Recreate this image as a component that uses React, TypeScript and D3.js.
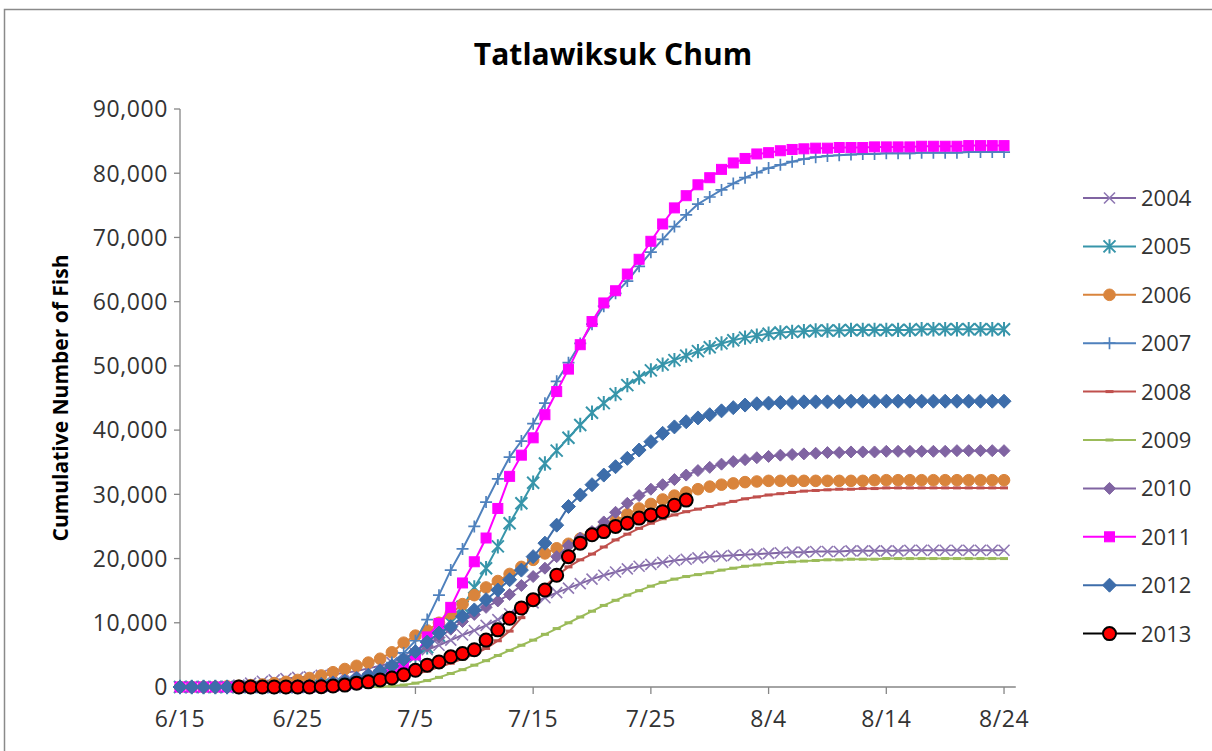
import React from "react";
import * as d3 from "d3";

const TITLE = "Tatlawiksuk Chum";
const Y_LABEL = "Cumulative Number of Fish";
const X_TICK_DAYS = [0, 10, 20, 30, 40, 50, 60, 70];
const X_TICK_LABELS = ["6/15", "6/25", "7/5", "7/15", "7/25", "8/4", "8/14", "8/24"];
const Y_TICKS = [0, 10000, 20000, 30000, 40000, 50000, 60000, 70000, 80000, 90000];

// daily cumulative counts, starting 6/15 (2013 starts 6/20)
const v2004 = [0, 0, 0, 0, 100, 300, 600, 900, 1100, 1300, 1500, 1600, 1800, 2000, 2200, 2500, 2900, 3300, 3800, 4600, 5200, 5800, 6500, 7300, 8100, 8800, 9600, 10500, 11400, 12300, 13100, 13900, 14700, 15400, 16100, 16800, 17400, 17900, 18400, 18800, 19100, 19400, 19700, 19900, 20100, 20300, 20400, 20500, 20600, 20700, 20800, 20900, 21000, 21000, 21100, 21100, 21100, 21200, 21200, 21200, 21200, 21200, 21300, 21300, 21300, 21300, 21300, 21300, 21300, 21300, 21300];
const v2005 = [0, 0, 0, 0, 0, 0, 0, 0, 0, 0, 0, 100, 200, 300, 500, 800, 1200, 1800, 2600, 3600, 4800, 6200, 8000, 10000, 12500, 15500, 18500, 21900, 25500, 28600, 31800, 34800, 36800, 38800, 40800, 42700, 44200, 45600, 47000, 48200, 49300, 50200, 50900, 51600, 52300, 52900, 53500, 54000, 54400, 54700, 55000, 55200, 55300, 55400, 55500, 55500, 55500, 55600, 55600, 55600, 55600, 55600, 55600, 55700, 55700, 55700, 55700, 55700, 55700, 55700, 55700];
const v2006 = [0, 0, 0, 0, 100, 200, 300, 400, 600, 800, 1100, 1400, 1800, 2300, 2800, 3300, 3800, 4400, 5400, 6900, 8000, 8800, 10000, 11400, 12900, 14300, 15500, 16500, 17600, 18700, 19800, 20800, 21600, 22300, 23100, 23900, 24800, 25800, 26900, 27800, 28500, 29200, 29800, 30300, 30800, 31200, 31500, 31700, 31900, 32000, 32100, 32100, 32100, 32100, 32100, 32100, 32100, 32100, 32100, 32200, 32200, 32200, 32200, 32200, 32200, 32200, 32200, 32200, 32200, 32200, 32200];
const v2007 = [0, 0, 0, 0, 0, 0, 0, 0, 0, 0, 0, 100, 200, 400, 700, 1100, 1700, 2600, 3800, 5300, 7200, 10500, 14300, 18200, 21500, 25000, 28800, 32400, 35800, 38300, 41000, 44200, 47600, 50500, 53500, 56500, 59300, 61300, 63200, 65500, 67700, 69700, 71700, 73500, 75200, 76300, 77400, 78400, 79300, 80100, 80800, 81300, 81800, 82200, 82500, 82700, 82800, 82900, 83000, 83000, 83100, 83100, 83100, 83200, 83200, 83200, 83200, 83300, 83300, 83300, 83300];
const v2008 = [0, 0, 0, 0, 0, 0, 0, 0, 0, 0, 0, 0, 50, 150, 300, 450, 650, 900, 1200, 1600, 2000, 2500, 3100, 3700, 4400, 5100, 6000, 7200, 8700, 10800, 13300, 15700, 17300, 18700, 19800, 20700, 21800, 22900, 23800, 24700, 25500, 26200, 26800, 27300, 27700, 28100, 28500, 28900, 29300, 29600, 29900, 30100, 30300, 30500, 30600, 30700, 30800, 30800, 30900, 30900, 31000, 31000, 31000, 31000, 31000, 31000, 31000, 31000, 31000, 31000, 31000];
const v2009 = [0, 0, 0, 0, 0, 0, 0, 0, 0, 0, 0, 0, 0, 0, 0, 0, 0, 50, 150, 300, 600, 1000, 1500, 2100, 2700, 3400, 4100, 4900, 5700, 6500, 7300, 8200, 9100, 10000, 10900, 11800, 12700, 13500, 14300, 15000, 15700, 16300, 16800, 17200, 17500, 17800, 18200, 18500, 18800, 19000, 19200, 19400, 19500, 19600, 19700, 19800, 19800, 19900, 19900, 19900, 20000, 20000, 20000, 20000, 20000, 20000, 20000, 20000, 20000, 20000, 20000];
const v2010 = [0, 0, 0, 0, 0, 0, 0, 0, 0, 0, 200, 300, 500, 800, 1100, 1500, 2000, 2700, 3400, 4200, 5200, 6400, 7700, 9000, 10200, 11300, 12400, 13400, 14400, 15800, 17200, 18500, 20300, 22000, 23200, 24200, 25700, 27200, 28600, 29800, 30800, 31500, 32300, 33000, 33700, 34200, 34700, 35100, 35400, 35700, 35900, 36100, 36200, 36300, 36400, 36500, 36500, 36600, 36600, 36600, 36700, 36700, 36700, 36700, 36700, 36700, 36800, 36800, 36800, 36800, 36800];
const v2011 = [0, 0, 0, 0, 0, 0, 0, 0, 0, 0, 0, 0, 50, 150, 300, 500, 800, 1300, 2000, 3200, 5000, 7800, 9900, 12400, 16200, 19500, 23200, 27800, 32800, 36100, 38800, 42400, 46000, 49500, 53300, 56900, 59800, 61700, 64300, 66600, 69400, 72100, 74600, 76500, 78200, 79300, 80600, 81600, 82300, 83000, 83200, 83500, 83700, 83800, 83900, 83900, 84000, 84000, 84000, 84100, 84100, 84100, 84100, 84200, 84200, 84200, 84200, 84300, 84300, 84300, 84300];
const v2012 = [0, 0, 0, 0, 0, 0, 0, 0, 0, 0, 100, 200, 400, 600, 900, 1300, 1800, 2500, 3300, 4300, 5500, 7000, 8400, 9400, 11000, 12000, 13600, 15100, 16700, 18200, 20300, 22400, 25200, 28100, 29900, 31500, 33000, 34300, 35600, 36900, 38200, 39500, 40500, 41300, 41900, 42400, 43000, 43500, 43900, 44100, 44200, 44300, 44300, 44400, 44400, 44400, 44400, 44500, 44500, 44500, 44500, 44500, 44500, 44500, 44500, 44500, 44500, 44500, 44500, 44500, 44500];
const v2013 = [0, 0, 0, 0, 0, 0, 0, 50, 150, 300, 600, 800, 1100, 1400, 1900, 2600, 3400, 3900, 4700, 5200, 5800, 7300, 8900, 10700, 12300, 13600, 15100, 17400, 20300, 22400, 23700, 24200, 25000, 25500, 26300, 26800, 27300, 28300, 29100];
const START_2013 = 5;

type Marker = "x" | "star" | "circle" | "plus" | "dash" | "diamond" | "square";
interface Series {
  name: string;
  values: number[];
  start: number;
  line: string;
  fill: string;
  stroke: string;
  marker: Marker;
  size: number;
  lw: number;
  mw: number;
}

const SERIES: Series[] = [
  { name: "2004", values: v2004, start: 0, line: "#8064A2", fill: "none", stroke: "#8F78B3", marker: "x", size: 5.5, lw: 2, mw: 1.6 },
  { name: "2005", values: v2005, start: 0, line: "#3795AA", fill: "none", stroke: "#3795AA", marker: "star", size: 6, lw: 2, mw: 2 },
  { name: "2006", values: v2006, start: 0, line: "#D9843C", fill: "#D9843C", stroke: "#D9843C", marker: "circle", size: 5.8, lw: 2, mw: 1 },
  { name: "2007", values: v2007, start: 0, line: "#4F81BD", fill: "none", stroke: "#4F81BD", marker: "plus", size: 6, lw: 2, mw: 1.7 },
  { name: "2008", values: v2008, start: 0, line: "#C0504D", fill: "none", stroke: "#C0504D", marker: "dash", size: 4, lw: 2, mw: 3 },
  { name: "2009", values: v2009, start: 0, line: "#9BBB59", fill: "none", stroke: "#9BBB59", marker: "dash", size: 4, lw: 2, mw: 3 },
  { name: "2010", values: v2010, start: 0, line: "#8064A2", fill: "#8064A2", stroke: "#8064A2", marker: "diamond", size: 6, lw: 2, mw: 1 },
  { name: "2011", values: v2011, start: 0, line: "#FF00FF", fill: "#FF00FF", stroke: "#FF00FF", marker: "square", size: 5, lw: 2, mw: 1 },
  { name: "2012", values: v2012, start: 0, line: "#3D6DAA", fill: "#3D6DAA", stroke: "#3D6DAA", marker: "diamond", size: 7, lw: 2, mw: 1 },
  { name: "2013", values: v2013, start: START_2013, line: "#000000", fill: "#FF0000", stroke: "#000000", marker: "circle", size: 6.5, lw: 2, mw: 2 },
];

const W = 1212;
const H = 751;
const FONT = "'Open Sans', 'Noto Sans', sans-serif";

function MarkerShape({ m, x, y, s, fill, stroke, w }: { m: Marker; x: number; y: number; s: number; fill: string; stroke: string; w: number }) {
  switch (m) {
    case "x":
      return <path d={`M${x - s},${y - s}L${x + s},${y + s}M${x - s},${y + s}L${x + s},${y - s}`} stroke={stroke} strokeWidth={w} fill="none" />;
    case "star":
      return <path d={`M${x - s},${y - s}L${x + s},${y + s}M${x - s},${y + s}L${x + s},${y - s}M${x},${y - s * 1.2}L${x},${y + s * 1.2}`} stroke={stroke} strokeWidth={w} fill="none" />;
    case "plus":
      return <path d={`M${x - s},${y}L${x + s},${y}M${x},${y - s}L${x},${y + s}`} stroke={stroke} strokeWidth={w} fill="none" />;
    case "dash":
      return <path d={`M${x - s},${y}L${x + s},${y}`} stroke={stroke} strokeWidth={w} fill="none" />;
    case "diamond":
      return <path d={`M${x},${y - s}L${x + s},${y}L${x},${y + s}L${x - s},${y}Z`} fill={fill} stroke={stroke} strokeWidth={w} />;
    case "square":
      return <rect x={x - s} y={y - s} width={2 * s} height={2 * s} fill={fill} stroke={stroke} strokeWidth={w} />;
    case "circle":
    default:
      return <circle cx={x} cy={y} r={s} fill={fill} stroke={stroke} strokeWidth={w} />;
  }
}

export default function App() {
  const x = d3.scaleLinear().domain([0, 71]).range([180, 1015.8]);
  const y = d3.scaleLinear().domain([0, 90000]).range([687, 109]);

  const legendX0 = 1083;
  const legendX1 = 1136;
  const legendY0 = 198;
  const legendStep = 48.4;

  return (
    <svg width={W} height={H} style={{ position: "absolute", left: 0, top: 0, background: "#fff" }} fontFamily={FONT}>
      <rect x={0} y={0} width={W} height={H} fill="#fff" />
      <rect x={4.5} y={9.5} width={1230} height={770} fill="none" stroke="#8a8a8a" strokeWidth={1.5} />
      <text x={613} y={65} textAnchor="middle" fontSize={30} fontWeight="bold" fill="#000">
        {TITLE}
      </text>
      {/* y axis */}
      <line x1={180} x2={180} y1={y(90000)} y2={y(0)} stroke="#868686" strokeWidth={1.3} />
      {Y_TICKS.map((t) => (
        <g key={t}>
          <line x1={174} x2={180} y1={y(t)} y2={y(t)} stroke="#868686" strokeWidth={1.3} />
          <text x={168} y={y(t)} dy="0.36em" textAnchor="end" fontSize={23} letterSpacing={0.6} fill="#333">
            {d3.format(",")(t)}
          </text>
        </g>
      ))}
      <text transform={`translate(61,${(y(0) + y(90000)) / 2}) rotate(-90)`} textAnchor="middle" dy="0.35em" fontSize={21} fontWeight="bold" fill="#000">
        {Y_LABEL}
      </text>
      {/* x axis */}
      <line x1={180} x2={1015.8} y1={687} y2={687} stroke="#868686" strokeWidth={1.3} />
      {X_TICK_DAYS.map((d, i) => (
        <g key={d}>
          <line x1={x(d)} x2={x(d)} y1={687} y2={694} stroke="#868686" strokeWidth={1.3} />
          <text x={x(d)} y={727} textAnchor="middle" fontSize={23} letterSpacing={0.6} fill="#333">
            {X_TICK_LABELS[i]}
          </text>
        </g>
      ))}
      {/* series */}
      {SERIES.map((s) => {
        const gen = d3
          .line<number>()
          .x((_, i) => x(i + s.start))
          .y((d) => y(d));
        return (
          <g key={s.name}>
            <path d={gen(s.values) || ""} fill="none" stroke={s.line} strokeWidth={s.lw} />
            {s.values.map((v, i) => (
              <MarkerShape key={i} m={s.marker} x={x(i + s.start)} y={y(v)} s={s.size} fill={s.fill} stroke={s.stroke} w={s.mw} />
            ))}
          </g>
        );
      })}
      {/* legend */}
      {SERIES.map((s, i) => {
        const ly = legendY0 + i * legendStep;
        const mx = (legendX0 + legendX1) / 2;
        return (
          <g key={s.name}>
            <line x1={legendX0} x2={legendX1} y1={ly} y2={ly} stroke={s.line} strokeWidth={s.lw} />
            <MarkerShape m={s.marker} x={mx} y={ly} s={s.size} fill={s.fill} stroke={s.stroke} w={s.mw} />
            <text x={1141} y={ly} dy="0.36em" fontSize={22} fill="#333">
              {s.name}
            </text>
          </g>
        );
      })}
    </svg>
  );
}
